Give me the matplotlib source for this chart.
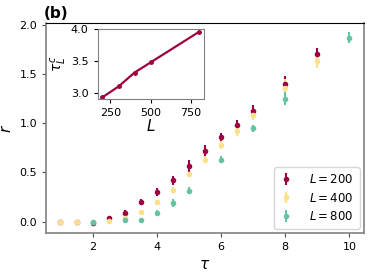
import matplotlib
matplotlib.use("Agg")
import matplotlib.pyplot as plt

# main panel data
tau_200 = [1, 1.5, 2, 2.5, 3, 3.5, 4, 4.5, 5, 5.5, 6, 6.5, 7, 8, 9]
r_200 = [0.0, 0.0, -0.01, 0.04, 0.09, 0.20, 0.30, 0.42, 0.565, 0.72, 0.855, 0.98, 1.12, 1.40, 1.70]
err_200 = [0.005, 0.005, 0.01, 0.015, 0.03, 0.034, 0.037, 0.045, 0.06, 0.055, 0.05, 0.05, 0.06, 0.08, 0.065]

tau_400 = [1, 1.5, 2, 2.5, 3, 3.5, 4, 4.5, 5, 5.5, 6, 6.5, 7, 8, 9]
r_400 = [0.0, 0.0, 0.0, 0.01, 0.04, 0.10, 0.20, 0.32, 0.487, 0.63, 0.775, 0.92, 1.08, 1.36, 1.63]
err_400 = [0.005, 0.005, 0.005, 0.01, 0.01, 0.01, 0.01, 0.03, 0.02, 0.035, 0.04, 0.05, 0.045, 0.085, 0.065]

tau_800 = [2, 3, 3.5, 4, 4.5, 5, 6, 7, 8, 10]
r_800 = [0.0, 0.015, 0.017, 0.09, 0.19, 0.313, 0.63, 0.946, 1.25, 1.87]
err_800 = [0.01, 0.01, 0.01, 0.025, 0.037, 0.034, 0.035, 0.04, 0.065, 0.06]

# inset data
L_vals = [200, 300, 400, 500, 800]
tau_c = [2.93, 3.10, 3.32, 3.48, 3.96]

c_200 = "#9e0142"
c_400 = "#fee08b"
c_800 = "#66c2a5"

fig = plt.figure(figsize=(3.74, 2.74), dpi=100)
ax = fig.add_axes([0.123, 0.150, 0.850, 0.765])

for t, r, e, c, lab in [(tau_200, r_200, err_200, c_200, "$L=200$"),
                        (tau_400, r_400, err_400, c_400, "$L=400$"),
                        (tau_800, r_800, err_800, c_800, "$L=800$")]:
    ax.errorbar(t, r, yerr=e, fmt="o", color=c, ms=3, elinewidth=1.5, label=lab)

ax.set_xlim(0.55, 10.45)
ax.set_ylim(-0.115, 2.015)
ax.set_xticks([2, 4, 6, 8, 10])
ax.set_yticks([0.0, 0.5, 1.0, 1.5, 2.0])
ax.tick_params(labelsize=8, length=3, color="0.3")
ax.set_xlabel(r"$\tau$", fontsize=11)
ax.set_ylabel(r"$r$", fontsize=11)
for s in ["left", "bottom", "right"]:
    ax.spines[s].set_color("0.5")
    ax.spines[s].set_linewidth(1.2)
ax.spines["top"].set_color("black")

ax.legend(loc="lower right", fontsize=8.5, handlelength=1.0, handletextpad=1.5,
          borderpad=0.5, labelspacing=0.45, borderaxespad=0.35)

fig.text(0.118, 0.935, "(b)", fontsize=11, fontweight="bold")

ins = fig.add_axes([0.261, 0.638, 0.284, 0.255])
ins.plot(L_vals, tau_c, "o-", color=c_200, ms=2.5, lw=1.6)
ins.set_xticks([250, 500, 750])
ins.set_yticks([3.0, 3.5, 4.0])
ins.set_ylim(2.9, 4.0)
ins.tick_params(labelsize=8, length=3)
ins.set_xlabel("$L$", fontsize=11, labelpad=0)
ins.set_ylabel(r"$\tau_L^c$", fontsize=10, labelpad=1)
for s in ins.spines.values():
    s.set_color("0.5")

fig.savefig("out.png", dpi=100)
